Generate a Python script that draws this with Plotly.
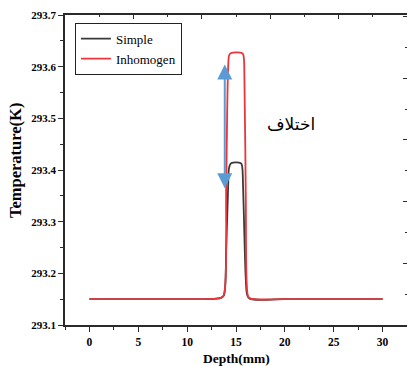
import plotly.graph_objects as go

# Temperature profiles across depth (mm) for the two models
depth_simple = [0, 5, 10, 13, 13.5, 13.75, 14.0, 14.2, 14.3, 14.5, 15.5, 15.62, 15.72, 15.85, 16.0, 16.15, 16.4, 20, 25, 30]
temp_simple = [293.150, 293.150, 293.150, 293.151, 293.153, 293.157, 293.25, 293.37, 293.405, 293.413,
               293.413, 293.408, 293.37, 293.28, 293.19, 293.158, 293.151, 293.150, 293.150, 293.150]

depth_inhom = [0, 5, 10, 13, 13.5, 13.75, 14.0, 14.2, 14.3, 14.45, 15.65, 15.78, 15.86, 16.0, 16.1, 16.25, 16.5, 20, 25, 30]
temp_inhom = [293.150, 293.150, 293.150, 293.151, 293.153, 293.158, 293.38, 293.60, 293.622, 293.626,
              293.626, 293.620, 293.58, 293.35, 293.18, 293.155, 293.151, 293.150, 293.150, 293.150]

series_names = ["Simple", "Inhomogen"]
series_colors = ["#3a3a3a", "#e8363b"]

# Difference marker between the two peak plateaus
arrow_depth = 13.85
arrow_top = 293.604
arrow_bottom = 293.362
diff_label = "اختلاف"

x_ticks = [0, 5, 10, 15, 20, 25, 30]
y_ticks = [293.1, 293.2, 293.3, 293.4, 293.5, 293.6, 293.7]

serif = "Liberation Serif"
axis_color = "#2a2a2a"

fig = go.Figure()
fig.add_trace(go.Scatter(x=depth_simple, y=temp_simple, mode="lines", name=series_names[0],
                         line=dict(color=series_colors[0], width=1.8), line_shape="spline"))
fig.add_trace(go.Scatter(x=depth_inhom, y=temp_inhom, mode="lines", name=series_names[1],
                         line=dict(color=series_colors[1], width=1.8), line_shape="spline"))
# carrier trace for the frame axes on top and right
fig.add_trace(go.Scatter(x=[None], y=[None], xaxis="x2", yaxis="y2", showlegend=False,
                         hoverinfo="skip", mode="lines"))

fig.update_layout(
    width=407, height=366,
    margin=dict(l=65, r=0, t=15, b=41),
    paper_bgcolor="white", plot_bgcolor="white",
    showlegend=True,
    legend=dict(x=0.029, y=0.975, xanchor="left", yanchor="top",
                bgcolor="white", bordercolor="#222", borderwidth=1,
                font=dict(family=serif, size=13, color="black"),
                tracegroupgap=0, itemwidth=30),
    xaxis=dict(range=[-2.5, 32.5], tickvals=x_ticks, ticktext=[f"<b>{v}</b>" for v in x_ticks],
               ticks="outside", ticklen=5, tickwidth=1.2,
               tickcolor=axis_color, showline=True, linecolor=axis_color, linewidth=1.5,
               showgrid=False, zeroline=False,
               minor=dict(dtick=2.5, tick0=0, ticks="outside", ticklen=3, tickcolor=axis_color, showgrid=False),
               tickfont=dict(family=serif, size=11.5, color="black")),
    yaxis=dict(range=[293.1, 293.7], tickvals=y_ticks, ticktext=[f"<b>{v:.1f}</b>" for v in y_ticks],
               ticks="outside", ticklen=5, tickwidth=1.2,
               tickcolor=axis_color, showline=True, linecolor=axis_color, linewidth=1.5,
               showgrid=False, zeroline=False,
               minor=dict(dtick=0.05, tick0=293.1, ticks="outside", ticklen=3, tickcolor=axis_color, showgrid=False),
               tickfont=dict(family=serif, size=11, color="black")),
    xaxis2=dict(overlaying="x", side="top", anchor="y2", range=[0, 10], tick0=0, dtick=2,
                ticks="inside", ticklen=4, tickcolor=axis_color, showticklabels=False,
                showline=True, linecolor=axis_color, linewidth=1.5, showgrid=False, zeroline=False,
                minor=dict(dtick=1, ticks="inside", ticklen=2, tickcolor=axis_color, showgrid=False)),
    yaxis2=dict(overlaying="y", side="right", anchor="x2", range=[0, 10.05], tick0=0, dtick=2,
                ticks="inside", ticklen=4, tickcolor=axis_color, showticklabels=False,
                showline=False, showgrid=False, zeroline=False,
                minor=dict(dtick=1, ticks="inside", ticklen=2, tickcolor=axis_color, showgrid=False)),
)

# Axis titles
fig.add_annotation(text="<b>Depth(mm)</b>", xref="paper", yref="paper", x=0.5, y=-0.108,
                   showarrow=False, xanchor="center", yanchor="middle",
                   font=dict(family=serif, size=13.5, color="black"))
fig.add_annotation(text="<b>Temperature(K)</b>", xref="paper", yref="paper", x=-0.146, y=0.529,
                   showarrow=False, textangle=-90, xanchor="center", yanchor="middle",
                   font=dict(family=serif, size=16.5, color="black"))

# Double-headed arrow spanning the peak difference
fig.add_annotation(x=arrow_depth, y=arrow_top, ax=arrow_depth, ay=arrow_bottom,
                   xref="x", yref="y", axref="x", ayref="y", text="",
                   showarrow=True, arrowside="end+start", arrowhead=2, startarrowhead=2,
                   arrowsize=1.5, startarrowsize=1.5, arrowwidth=2, arrowcolor="#5b9bd5",
                   standoff=0, startstandoff=0)
fig.add_annotation(text=diff_label, x=20.6, y=293.49, xref="x", yref="y", showarrow=False,
                   font=dict(family="DejaVu Sans", size=17, color="black"))

fig.write_html("out.html")
